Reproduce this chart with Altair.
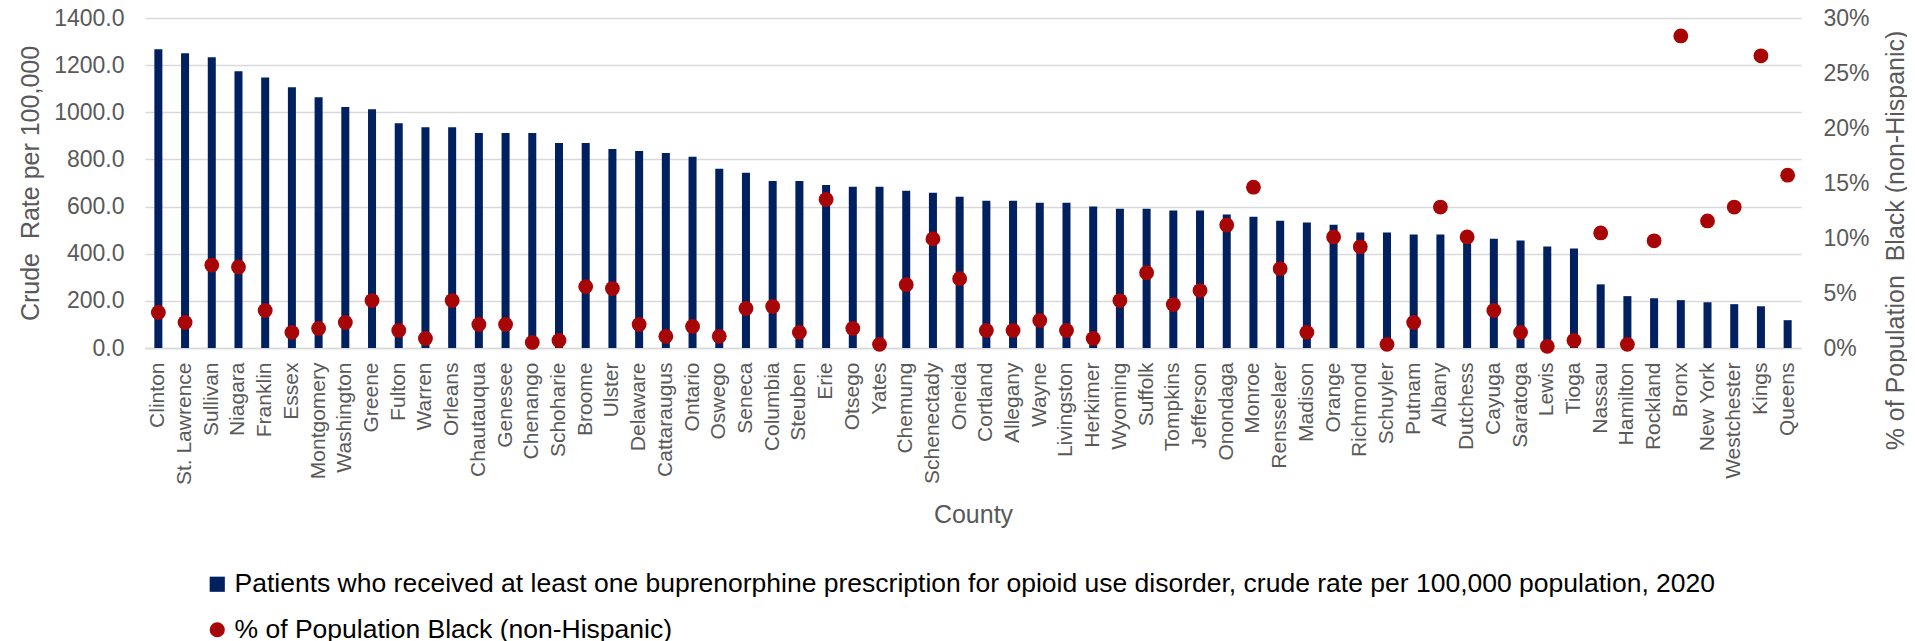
import altair as alt
import pandas as pd

counties = ["Clinton", "St. Lawrence", "Sullivan", "Niagara", "Franklin", "Essex", "Montgomery",
            "Washington", "Greene", "Fulton", "Warren", "Orleans", "Chautauqua", "Genesee",
            "Chenango", "Schoharie", "Broome", "Ulster", "Delaware", "Cattaraugus", "Ontario",
            "Oswego", "Seneca", "Columbia", "Steuben", "Erie", "Otsego", "Yates", "Chemung",
            "Schenectady", "Oneida", "Cortland", "Allegany", "Wayne", "Livingston", "Herkimer",
            "Wyoming", "Suffolk", "Tompkins", "Jefferson", "Onondaga", "Monroe", "Rensselaer",
            "Madison", "Orange", "Richmond", "Schuyler", "Putnam", "Albany", "Dutchess", "Cayuga",
            "Saratoga", "Lewis", "Tioga", "Nassau", "Hamilton", "Rockland", "Bronx", "New York",
            "Westchester", "Kings", "Queens"]

crude_rate = [1267, 1250, 1233, 1174, 1148, 1106, 1064, 1022, 1013, 954, 937, 937, 912, 912,
              912, 870, 870, 844, 836, 827, 811, 760, 743, 709, 709, 692, 684, 684, 667, 659,
              642, 625, 625, 616, 616, 600, 591, 591, 583, 583, 566, 557, 540, 532, 523, 490,
              490, 481, 481, 475, 464, 456, 431, 422, 270, 220, 211, 203, 194, 186, 177, 118]

pct_black = [3.23, 2.32, 7.54, 7.36, 3.41, 1.42, 1.78, 2.32, 4.31, 1.60, 0.87, 4.31, 2.14, 2.14,
             0.51, 0.69, 5.58, 5.40, 2.14, 1.06, 1.96, 1.06, 3.59, 3.77, 1.42, 13.5, 1.78, 0.33,
             5.76, 9.92, 6.30, 1.60, 1.60, 2.50, 1.60, 0.87, 4.31, 6.84, 3.95, 5.22, 11.18, 14.62,
             7.21, 1.42, 10.10, 9.20, 0.33, 2.32, 12.81, 10.10, 3.41, 1.42, 0.15, 0.69, 10.46,
             0.33, 9.74, 28.37, 11.55, 12.81, 26.56, 15.71]

left_ticks = [0, 200, 400, 600, 800, 1000, 1200, 1400]
right_ticks = [0, 5, 10, 15, 20, 25, 30]

bar_label = ("Patients who received at least one buprenorphine prescription for opioid use "
             "disorder, crude rate per 100,000 population, 2020")
dot_label = "% of Population Black (non-Hispanic)"

bar_df = pd.DataFrame({"County": counties, "Rate": crude_rate, "series": bar_label})
dot_df = pd.DataFrame({"County": counties, "Pct": pct_black, "series": dot_label})

NAVY = "#002060"
RED = "#A80606"
GREY = "#595959"
GRID = "#D9D9D9"
FS = 23
TFS = 25

color_scale = alt.Scale(domain=[bar_label, dot_label], range=[NAVY, RED])
shape_scale = alt.Scale(domain=[bar_label, dot_label], range=["square", "circle"])

legend = alt.Legend(orient="none", legendX=59, legendY=553, direction="vertical",
                    labelFontSize=26.5, labelColor="#000000", symbolSize=230,
                    symbolStrokeWidth=0, rowPadding=18.5, labelLimit=0, labelOffset=4)

x_enc = alt.X("County:N", sort=counties,
              scale=alt.Scale(paddingInner=0.7, paddingOuter=0.35),
              axis=alt.Axis(title="County", labelAngle=270, labelFontSize=21,
                            labelColor=GREY, labelPadding=14, ticks=False, tickSize=0,
                            domain=True, domainColor=GRID, domainWidth=1.5,
                            labelOverlap=False, labelLimit=0,
                            titleFontSize=TFS, titleColor=GREY, titleFontWeight="normal",
                            titleX=828, titleY=166, titleAlign="center",
                            titleBaseline="middle"))

bars = alt.Chart(bar_df).mark_bar().encode(
    x=x_enc,
    y=alt.Y("Rate:Q", scale=alt.Scale(domain=[0, 1400]),
            axis=alt.Axis(title="Crude\u00a0 Rate per 100,000", values=left_ticks,
                          format=".1f", grid=True, gridColor=GRID, gridWidth=1.5,
                          domain=False, ticks=False, tickSize=0, labelPadding=21,
                          labelFontSize=FS, labelColor=GREY, titleFontSize=TFS,
                          titleColor=GREY, titleFontWeight="normal", titleX=-115,
                          titleY=165, titleAngle=270, titleAlign="center",
                          titleBaseline="middle")),
    color=alt.Color("series:N", scale=color_scale, legend=legend, title=None),
)

dots = alt.Chart(dot_df).mark_point(filled=True, opacity=1, size=220).encode(
    x=alt.X("County:N", sort=counties),
    y=alt.Y("Pct:Q", scale=alt.Scale(domain=[0, 30]),
            axis=alt.Axis(orient="right", title="% of Population\u00a0 Black (non-Hispanic)",
                          values=right_ticks, labelExpr="datum.value + '%'", grid=False,
                          domain=False, ticks=False, tickSize=0, labelPadding=22,
                          labelFontSize=FS, labelColor=GREY, titleFontSize=TFS,
                          titleColor=GREY, titleFontWeight="normal", titleX=94,
                          titleY=222, titleAngle=270, titleAlign="center",
                          titleBaseline="middle")),
    color=alt.Color("series:N", scale=color_scale, legend=legend, title=None),
    shape=alt.Shape("series:N", scale=shape_scale, legend=legend, title=None),
)

chart = alt.layer(bars, dots).resolve_scale(y="independent").properties(
    width=1656, height=330,
    autosize=alt.AutoSizeParams(type="none"),
    padding={"left": 137, "top": 10, "right": 106, "bottom": 293},
    background="white",
).configure(font="Liberation Sans").configure_view(stroke=None)

chart.save("out.html", embed_options={"renderer": "svg", "actions": False})
